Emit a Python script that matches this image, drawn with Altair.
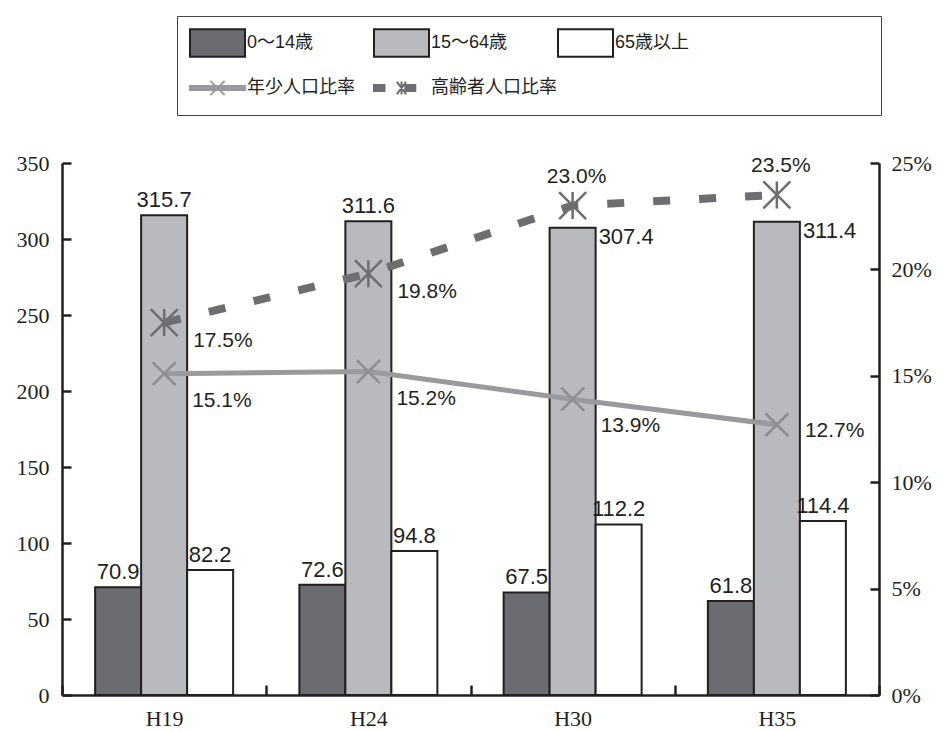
import altair as alt
import pandas as pd

# ---------------- data ----------------
years = ["H19", "H24", "H30", "H35"]
age_groups = ["0～14歳", "15～64歳", "65歳以上"]
pop_0_14 = [70.9, 72.6, 67.5, 61.8]
pop_15_64 = [315.7, 311.6, 307.4, 311.4]
pop_65_over = [82.2, 94.8, 112.2, 114.4]
rate_names = ["年少人口比率", "高齢者人口比率"]
young_rate = [15.1, 15.2, 13.9, 12.7]
old_rate = [17.5, 19.8, 23.0, 23.5]
left_ticks = [0, 50, 100, 150, 200, 250, 300, 350]
right_ticks = [0, 5, 10, 15, 20, 25]

series_domain = age_groups + rate_names

bars_df = pd.DataFrame(
    [
        {"year": y, "series": g, "value": v}
        for g, vals in zip(age_groups, [pop_0_14, pop_15_64, pop_65_over])
        for y, v in zip(years, vals)
    ]
)
rates_df = pd.DataFrame({"year": years, "young": young_rate, "old": old_rate})
legend_df = pd.DataFrame({"series": series_domain})

# ---------------- styles ----------------
INK = "#231f20"
DARK = "#6b6c71"
LIGHT = "#b9babe"
WHITE = "#ffffff"
YOUNG = "#9a9a9e"
OLD = "#6d6e71"
SERIF = "Liberation Serif, DejaVu Serif, serif"
SANS = "Liberation Sans, Arial, sans-serif"
LEGFONT = "Liberation Sans, Noto Sans CJK JP, sans-serif"

fill_range = [DARK, LIGHT, WHITE, YOUNG, OLD]
stroke_range = [INK, INK, INK, YOUNG, OLD]
RECT = "M-1,-0.5H1V0.5H-1Z"
YOUNG_SYM = "M-1,-0.07H1V0.07H-1ZM-0.26,-0.26L0.26,0.26M-0.26,0.26L0.26,-0.26"
OLD_SYM = ("M-1,-0.11H-0.62V0.11H-1ZM0.14,-0.11H0.5V0.11H0.14Z"
           "M-0.17,-0.22L0.17,0.22M-0.17,0.22L0.17,-0.22M0,-0.24V0.24")
shape_range = [RECT, RECT, RECT, YOUNG_SYM, OLD_SYM]
X_MARK = "M-1,-1L1,1M-1,1L1,-1"
AST_MARK = "M-1,-1L1,1M-1,1L1,-1M0,-1L0,1"

LEG = alt.Legend(
    title=" ",
    titleOrient="right",
    titlePadding=180,
    titleFont=LEGFONT,
    titleFontSize=18,
    orient="none",
    legendX=115,
    legendY=-147,
    direction="horizontal",
    columns=3,
    gridAlign="all",
    columnPadding=0,
    rowPadding=15,
    clipHeight=30,
    padding=12,
    strokeColor="#444444",
    symbolSize=3025,
    symbolStrokeWidth=2,
    symbolOpacity=1,
    symbolFillColor=WHITE,
    symbolStrokeColor=INK,
    labelFont=LEGFONT,
    labelFontSize=18,
    labelColor=INK,
    labelOffset=1,
    labelLimit=300,
)

x_scale = alt.Scale(type="band", domain=years, paddingInner=0, paddingOuter=0)
x_enc = alt.X(
    "year:N",
    sort=years,
    scale=x_scale,
    axis=alt.Axis(
        title=None,
        labelAngle=0,
        tickBand="extent",
        tickSize=alt.ExprRef("-10"),
        labelPadding=23,
        labelFont=SERIF,
        labelFontSize=22,
    ),
)
x_plain = alt.X("year:N", sort=years, scale=x_scale)

fill_scale = alt.Scale(domain=series_domain, range=fill_range)
xoff = alt.XOffset(
    "series:N",
    sort=age_groups,
    scale=alt.Scale(domain=age_groups, paddingInner=0, paddingOuter=0.72),
)
left_scale = alt.Scale(domain=[0, 350], nice=False, zero=True)
y_left = alt.Y(
    "value:Q",
    stack=None,
    scale=left_scale,
    axis=alt.Axis(
        title=None,
        values=left_ticks,
        format="d",
        tickSize=alt.ExprRef("-9"),
        labelPadding=22,
        labelFont=SERIF,
        labelFontSize=22,
    ),
)

bars = alt.Chart(bars_df).mark_bar(stroke=INK, strokeWidth=2, opacity=1).encode(
    x=x_enc,
    xOffset=xoff,
    y=y_left,
    fill=alt.Fill("series:N", scale=fill_scale, legend=LEG),
)

label_base = alt.Chart(bars_df).encode(
    x=x_plain,
    xOffset=xoff,
    y=alt.Y("value:Q", stack=None, scale=left_scale),
    text=alt.Text("value:Q", format=".1f"),
)
side_rule = "datum.series == '15～64歳' && (datum.year == 'H30' || datum.year == 'H35')"
labels_above = label_base.transform_filter("!(" + side_rule + ")").mark_text(
    baseline="bottom", dy=-3, font=SANS, fontSize=22, color=INK
)
labels_side = label_base.transform_filter(side_rule).mark_text(
    align="left", baseline="top", dx=26, dy=-1, font=SANS, fontSize=22, color=INK
)

bar_group = alt.layer(bars, labels_above, labels_side)

# ---------------- rates ----------------
rate_scale = alt.Scale(domain=[0, 25], nice=False, zero=True)
y_young = alt.Y(
    "young:Q",
    scale=rate_scale,
    axis=alt.Axis(
        title=None,
        orient="right",
        values=right_ticks,
        labelExpr="datum.value + '%'",
        tickSize=alt.ExprRef("-9"),
        labelPadding=21,
        labelFont=SERIF,
        labelFontSize=22,
    ),
)
y_old = alt.Y("old:Q", scale=rate_scale)

rbase = alt.Chart(rates_df).transform_calculate(
    young_lbl="format(datum.young, '.1f') + '%'",
    old_lbl="format(datum.old, '.1f') + '%'",
)

young_line = rbase.mark_line(color=YOUNG, strokeWidth=5).encode(x=x_plain, y=y_young)
old_line = rbase.mark_line(color=OLD, strokeWidth=8, strokeDash=[17, 29]).encode(
    x=x_plain, y=y_old
)
young_pts = rbase.mark_point(
    shape=X_MARK, size=529, filled=False, stroke="#8e8e92", strokeWidth=2.5, opacity=1
).encode(x=x_plain, y=y_young)
old_pts = rbase.mark_point(
    shape=AST_MARK, size=729, filled=False, stroke=OLD, strokeWidth=2.5, opacity=1
).encode(x=x_plain, y=y_old)

late = "datum.year == 'H35'"
young_lab_a = rbase.transform_filter("!(" + late + ")").mark_text(
    align="left", baseline="top", dx=28, dy=16, font=SANS, fontSize=21, color=INK
).encode(x=x_plain, y=y_young, text="young_lbl:N")
young_lab_b = rbase.transform_filter(late).mark_text(
    align="left", baseline="top", dx=28, dy=-5, font=SANS, fontSize=21, color=INK
).encode(x=x_plain, y=y_young, text="young_lbl:N")

early = "datum.year == 'H19' || datum.year == 'H24'"
old_lab_a = rbase.transform_filter(early).mark_text(
    align="left", baseline="top", dx=29, dy=7, font=SANS, fontSize=21, color=INK
).encode(x=x_plain, y=y_old, text="old_lbl:N")
old_lab_b = rbase.transform_filter("!(" + early + ")").mark_text(
    align="center", baseline="bottom", dx=4, dy=-19, font=SANS, fontSize=21, color=INK
).encode(x=x_plain, y=y_old, text="old_lbl:N")

rate_group = alt.layer(
    young_line, old_line, young_pts, old_pts,
    young_lab_a, young_lab_b, old_lab_a, old_lab_b,
)

# ---------------- legend entries for the two rate lines ----------------
legend_layer = (
    alt.Chart(legend_df)
    .transform_filter("false")
    .mark_point(filled=True, opacity=1)
    .encode(
        fill=alt.Fill("series:N", scale=fill_scale, legend=LEG),
        stroke=alt.Stroke("series:N", scale=alt.Scale(domain=series_domain, range=stroke_range), legend=LEG),
        shape=alt.Shape("series:N", scale=alt.Scale(domain=series_domain, range=shape_range), legend=LEG),
    )
)

chart = (
    alt.layer(bar_group, rate_group, legend_layer)
    .resolve_scale(y="independent")
    .properties(
        width=817,
        height=532,
        autosize=alt.AutoSizeParams(type="none"),
        padding={"left": 62, "top": 163, "right": 64, "bottom": 36},
        background="white",
    )
    .configure_view(stroke="transparent")
    .configure_axis(
        grid=False,
        domainColor=INK,
        domainWidth=2.5,
        tickColor=INK,
        tickWidth=2.5,
        labelColor=INK,
    )
)

chart.save("out.html", embed_options={"renderer": "svg", "actions": False})
